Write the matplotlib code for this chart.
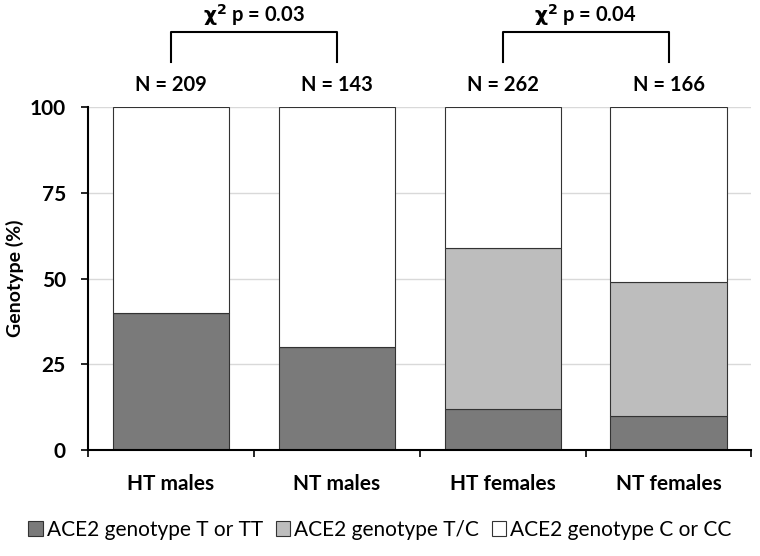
import numpy as np
import matplotlib.pyplot as plt

groups = ['HT males', 'NT males', 'HT females', 'NT females']
n_labels = ['N = 209', 'N = 143', 'N = 262', 'N = 166']
t_tt = np.array([40, 30, 12, 10])
t_c = np.array([0, 0, 47, 39])
c_cc = 100 - t_tt - t_c
pvals = ['0.03', '0.04']
pairs = [(0, 1), (2, 3)]

plt.rcParams['font.family'] = ['Lato', 'DejaVu Sans']

fig = plt.figure(figsize=(7.6, 5.56), dpi=100)
ax = fig.add_axes([0.1158, 0.1906, 0.873, 0.617])

x = np.arange(len(groups))
w = 0.7
ax.bar(x, t_tt, w, color='#7a7a7a', edgecolor='#333333', linewidth=0.8,
       label='ACE2 genotype T or TT', zorder=2)
ax.bar(x, t_c, w, bottom=t_tt, color='#bdbdbd', edgecolor='#333333', linewidth=0.8,
       label='ACE2 genotype T/C', zorder=2)
ax.bar(x, c_cc, w, bottom=t_tt + t_c, color='white', edgecolor='#333333', linewidth=0.8,
       label='ACE2 genotype C or CC', zorder=2)

ax.set_xlim(-0.5, 3.5)
ax.set_ylim(0, 100)
ax.set_yticks([0, 25, 50, 75, 100])
ax.set_yticklabels(['0', '25', '50', '75', '100'], fontsize=15, fontweight='bold')
ax.yaxis.grid(True, color='#d9d9d9', linewidth=1, zorder=0)
ax.set_axisbelow(True)

ax.set_xticks(x)
ax.set_xticklabels(groups, fontsize=15, fontweight='bold')
ax.tick_params(axis='x', length=0, pad=17)
ax.set_xticks(np.arange(-0.5, 3.6, 1), minor=True)
ax.tick_params(axis='x', which='minor', length=5, width=1.2, direction='out')
ax.tick_params(axis='y', length=5, width=1.2, direction='out', pad=11)

for s in ['top', 'right']:
    ax.spines[s].set_visible(False)
ax.spines['left'].set_linewidth(1.5)
ax.spines['bottom'].set_linewidth(1.5)

ax.set_ylabel('Genotype (%)', fontsize=14, fontweight='bold', labelpad=4)

for i, lab in enumerate(n_labels):
    ax.text(x[i], 106.3, lab, ha='center', va='center', fontsize=14.5,
            fontweight='bold', clip_on=False)

for (a, b), p in zip(pairs, pvals):
    ax.plot([a, a, b, b], [113, 122, 122, 113], color='black', linewidth=1.5,
            clip_on=False)
    ax.text((a + b) / 2, 126.9, r'$\mathbf{\chi^2}$ p = ' + p, ha='center',
            va='center', fontsize=14.5, fontweight='bold', clip_on=False)

fig.legend(loc='center', bbox_to_anchor=(0.5, 0.047), ncol=3, frameon=False,
           fontsize=15, handlelength=0.7, handleheight=0.7, handletextpad=0.2,
           columnspacing=0.6)

fig.savefig('out.png', dpi=100)
